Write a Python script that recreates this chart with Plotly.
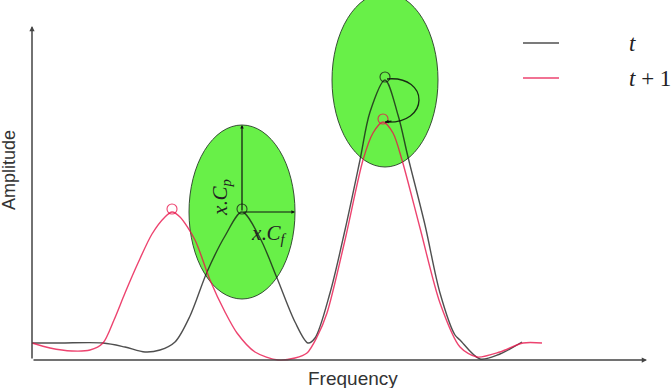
import numpy as np
import plotly.graph_objects as go

# Frequency / amplitude values (arbitrary units)
freq_t = [0, 28, 71, 93, 113, 128, 143, 158, 175, 193, 210, 228, 245, 263, 276, 283,
          298, 313, 328, 338, 353, 366, 376, 393, 408, 423, 428, 448, 468, 490]
amp_t = [17, 17, 17, 13, 8, 10, 18, 44, 88, 124, 148, 122, 82, 38, 17, 22,
         67, 130, 200, 248, 280, 245, 203, 135, 67, 25, 20, 1, 6, 18]

freq_t1 = [0, 18, 40, 58, 71, 82, 93, 106, 120, 133, 140, 148, 163, 178, 193, 205,
           223, 246, 263, 275, 285, 295, 313, 331, 341, 351, 361, 370, 388, 408,
           428, 445, 468, 491, 510]
amp_t1 = [17, 12, 9, 10, 17, 40, 67, 97, 126, 143, 148, 143, 120, 80, 48, 27,
          8, 0, 2, 7, 23, 47, 120, 200, 227, 238, 227, 200, 132, 57,
          13, 3, 8, 17, 17]

series_names = ["t", "t + 1"]

# pixel mapping: x_data = px - 32 ; y_data = 360 - py
X_RANGE = [-32, 639]
Y_RANGE = [-28, 360]

BLACK = "rgba(20,20,20,0.75)"
RED = "rgba(232,20,75,0.8)"
GREEN = "rgb(104,240,72)"


def peaks(xs, ys):
    out = []
    for i in range(1, len(ys) - 1):
        if ys[i] > ys[i - 1] and ys[i] > ys[i + 1] and ys[i] > 100:
            out.append((xs[i], ys[i]))
    return out


pk_t = peaks(freq_t, amp_t)
pk_t1 = peaks(freq_t1, amp_t1)

fig = go.Figure()

# curves
fig.add_trace(go.Scatter(x=freq_t, y=amp_t, mode="lines",
                         line=dict(color=BLACK, width=1.4, shape="spline", smoothing=0.9),
                         hoverinfo="skip"))
fig.add_trace(go.Scatter(x=freq_t1, y=amp_t1, mode="lines",
                         line=dict(color=RED, width=1.4, shape="spline", smoothing=0.8),
                         hoverinfo="skip"))

# peak circles
fig.add_trace(go.Scatter(x=[p[0] for p in pk_t], y=[p[1] + 3 for p in pk_t], mode="markers",
                         marker=dict(symbol="circle-open", size=10, color=BLACK, line=dict(width=1.1)),
                         hoverinfo="skip"))
fig.add_trace(go.Scatter(x=[p[0] for p in pk_t1], y=[p[1] + 3 for p in pk_t1], mode="markers",
                         marker=dict(symbol="circle-open", size=10, color=RED, line=dict(width=1.1)),
                         hoverinfo="skip"))

shapes = []
SEMI_X, SEMI_Y = 53, 87
for (cx, cy) in pk_t:
    shapes.append(dict(type="circle", xref="x", yref="y", layer="below",
                       x0=cx - SEMI_X, x1=cx + SEMI_X, y0=cy - SEMI_Y, y1=cy + SEMI_Y,
                       fillcolor=GREEN, line=dict(color="rgba(40,60,40,0.9)", width=1)))

# curved arrow from peak at t to peak at t+1 (second peak)
(bx, by) = pk_t[1]
(rx, ry) = pk_t1[1]
shapes.append(dict(type="path", xref="x", yref="y",
                   path=f"M {bx+2},{by+1} C {bx+45},{by+5} {bx+45},{ry-3} {rx+2},{ry}",
                   line=dict(color="rgba(10,10,10,0.85)", width=1.3)))

# legend lines
shapes.append(dict(type="line", xref="x", yref="y", x0=491, x1=527, y0=317, y1=317,
                   line=dict(color="rgba(60,60,60,0.9)", width=1.6)))
shapes.append(dict(type="line", xref="x", yref="y", x0=491, x1=527, y0=282, y1=282,
                   line=dict(color=RED, width=1.6)))

annotations = []
AX = "#444"
# axes with arrowheads
annotations.append(dict(x=615, y=0, ax=0, ay=0, xref="x", yref="y", axref="x", ayref="y",
                        showarrow=True, arrowhead=2, arrowsize=0.7, arrowwidth=1.5, arrowcolor=AX, text=""))
annotations.append(dict(x=0, y=334, ax=0, ay=0, xref="x", yref="y", axref="x", ayref="y",
                        showarrow=True, arrowhead=2, arrowsize=0.7, arrowwidth=1.5, arrowcolor=AX, text=""))

# arrows inside first ellipse
(cx, cy) = pk_t[0]
annotations.append(dict(x=cx, y=cy + SEMI_Y, ax=cx, ay=cy, xref="x", yref="y", axref="x", ayref="y",
                        showarrow=True, arrowhead=2, arrowsize=0.6, arrowwidth=1.2, arrowcolor="#111", text=""))
annotations.append(dict(x=cx + SEMI_X, y=cy, ax=cx, ay=cy, xref="x", yref="y", axref="x", ayref="y",
                        showarrow=True, arrowhead=2, arrowsize=0.6, arrowwidth=1.2, arrowcolor="#111", text=""))
annotations.append(dict(x=rx + 2, y=ry, ax=rx + 10, ay=ry + 1, xref="x", yref="y", axref="x", ayref="y",
                        showarrow=True, arrowhead=2, arrowsize=0.6, arrowwidth=1.2, arrowcolor="#111", text=""))

SERIF = "Liberation Serif, DejaVu Serif, serif"
annotations.append(dict(x=cx - 21, y=cy + 14, xref="x", yref="y", showarrow=False, textangle=-90,
                        text="<i>x</i>.<i>C</i><sub><i>p</i></sub>",
                        font=dict(family=SERIF, size=21, color="#222")))
annotations.append(dict(x=cx + 27, y=cy - 22, xref="x", yref="y", showarrow=False,
                        text="<i>x</i>.<i>C</i><sub><i>f</i></sub>",
                        font=dict(family=SERIF, size=21, color="#222")))

# axis titles
SANS = "Liberation Sans, Arial, sans-serif"
annotations.append(dict(x=321, y=-18, xref="x", yref="y", showarrow=False, text="Frequency",
                        font=dict(family=SANS, size=19, color="#333")))
annotations.append(dict(x=-23, y=190, xref="x", yref="y", showarrow=False, text="Amplitude", textangle=-90,
                        font=dict(family=SANS, size=18, color="#333")))

# legend texts
annotations.append(dict(x=595, y=317, xref="x", yref="y", showarrow=False, xanchor="left",
                        text=f"<i>{series_names[0]}</i>", font=dict(family=SERIF, size=23, color="#222")))
annotations.append(dict(x=595, y=282, xref="x", yref="y", showarrow=False, xanchor="left",
                        text="<i>t</i> + 1", font=dict(family=SERIF, size=23, color="#222")))

fig.update_layout(
    width=671, height=388,
    margin=dict(l=0, r=0, t=0, b=0),
    paper_bgcolor="white", plot_bgcolor="white",
    showlegend=False,
    xaxis=dict(range=X_RANGE, visible=False, fixedrange=True),
    yaxis=dict(range=Y_RANGE, visible=False, fixedrange=True),
    shapes=shapes, annotations=annotations,
)

fig.write_html("out.html")
